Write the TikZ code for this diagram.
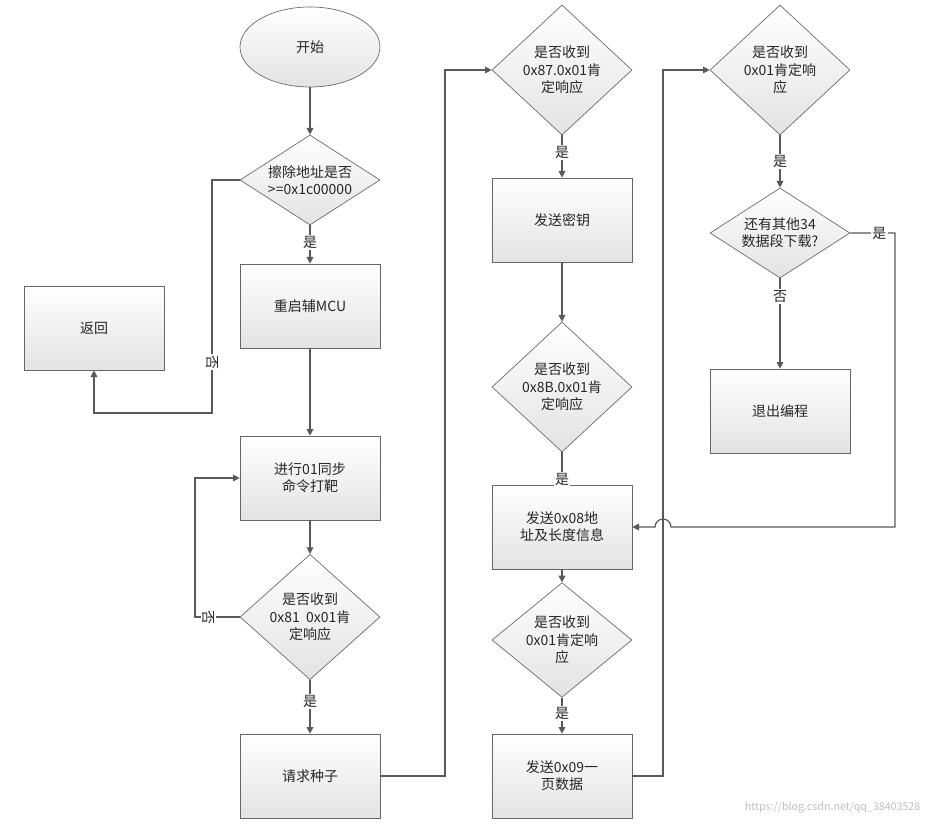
\documentclass[tikz,border=0pt]{standalone}
\usepackage{fontspec}
\setmainfont{Noto Sans CJK SC}
\usetikzlibrary{shapes.geometric,arrows.meta}
\begin{document}
\begin{tikzpicture}[x=0.75pt,y=-0.75pt,
  every node/.style={font=\fontsize{10.5pt}{13pt}\selectfont,align=center,text=black!85},
  shp/.style={draw=gray!80!black,line width=0.5pt,top color=white,bottom color=gray!22},
  box/.style={shp,rectangle,minimum width=105pt,minimum height=63pt,inner sep=0pt},
  dia/.style={shp,diamond,inner sep=0pt},
  ln/.style={draw=gray!70!black,line width=0.9pt,-{Triangle[length=5pt,width=5pt]}},
  lab/.style={fill=white,inner sep=1pt}]
\useasboundingbox (0,0) rectangle (928,827);
% column 1
\node[shp,ellipse,minimum width=105pt,minimum height=60pt] (st) at (310,47) {开始};
\node[dia,minimum width=105pt,minimum height=67.5pt] (d1) at (310,180) {};
\node at (d1) {擦除地址是否\\>=0x1c00000};
\node[box] (b1) at (310,306) {重启辅MCU};
\node[box] (ret) at (94,328) {返回};
\node[box] (b2) at (310,478) {进行01同步\\命令打靶};
\node[dia,minimum width=105pt,minimum height=94pt] (d2) at (310,617) {};
\node at (d2) {是否收到\\0x81\ \ 0x01肯\\定响应};
\node[box] (b3) at (310,776) {请求种子};
% column 2
\node[dia,minimum width=105pt,minimum height=97.5pt] (d3) at (562,70) {};
\node at (d3) {是否收到\\0x87.0x01肯\\定响应};
\node[box] (b4) at (562,220) {发送密钥};
\node[dia,minimum width=105pt,minimum height=97.5pt] (d4) at (562,387) {};
\node at (d4) {是否收到\\0x8B.0x01肯\\定响应};
\node[box] (b5) at (562,527) {发送0x08地\\址及长度信息};
\node[dia,minimum width=105pt,minimum height=86pt] (d5) at (562,640) {};
\node at (d5) {是否收到\\0x01肯定响\\应};
\node[box] (b6) at (562,776) {发送0x09一\\页数据};
% column 3
\node[dia,minimum width=105pt,minimum height=97.5pt] (d6) at (780,70) {};
\node at (d6) {是否收到\\0x01肯定响\\应};
\node[dia,minimum width=105pt,minimum height=67.5pt] (d7) at (780,233) {};
\node at (d7) {还有其他34\\数据段下载?};
\node[box] (b7) at (780,411) {退出编程};
\coordinate (c1) at (212,180); \coordinate (c2) at (212,413);
\coordinate (c3) at (195,617); \coordinate (c4) at (195,478);
\coordinate (c5) at (445,776); \coordinate (c6) at (445,70);
\coordinate (c7) at (663,776); \coordinate (c8) at (663,70);
\coordinate (c9) at (895,233); \coordinate (c10) at (895,527); \coordinate (c11) at (671,527);
% connectors
\draw[ln] (st) -- (d1);
\draw[ln] (d1) -- node[lab,pos=0.45]{是} (b1);
\draw[ln] (d1.west) -- (c1) -- (c2) -- (c2 -| ret) -- (ret.south);
\node[rotate=-90,lab] at (212,362) {否};
\draw[ln] (b1) -- (b2);
\draw[ln] (b2) -- (d2);
\draw[ln] (d2) -- node[lab,pos=0.4]{是} (b3);
\draw[ln] (d2.west) -- node[lab,pos=0.7,rotate=-90]{否} (c3) -- (c4) -- (b2.west);
\draw[ln] (b3.east) -- (c5) -- (c6) -- (d3.west);
\draw[ln] (d3) -- node[lab,pos=0.4]{是} (b4);
\draw[ln] (b4) -- (d4);
\draw[ln] (d4) -- node[lab,pos=0.85]{是} (b5);
\draw[ln] (b5) -- (d5);
\draw[ln] (d5) -- node[lab,pos=0.45]{是} (b6);
\draw[ln] (b6.east) -- (c7) -- (c8) -- (d6.west);
\draw[ln] (d6) -- node[lab,pos=0.5]{是} (d7);
\draw[ln] (d7) -- node[lab,pos=0.2]{否} (b7);
\draw[ln] (d7.east) -- node[lab,pos=0.65]{是} (c9) -- (c10) -- (c11) arc[start angle=0,end angle=180,radius=6pt] -- (b5.east);
\node[text=gray!50,font=\fontsize{8pt}{9pt}\selectfont,anchor=east] at (925,808) {https://blog.csdn.net/qq\_38403528};
\end{tikzpicture}
\end{document}
